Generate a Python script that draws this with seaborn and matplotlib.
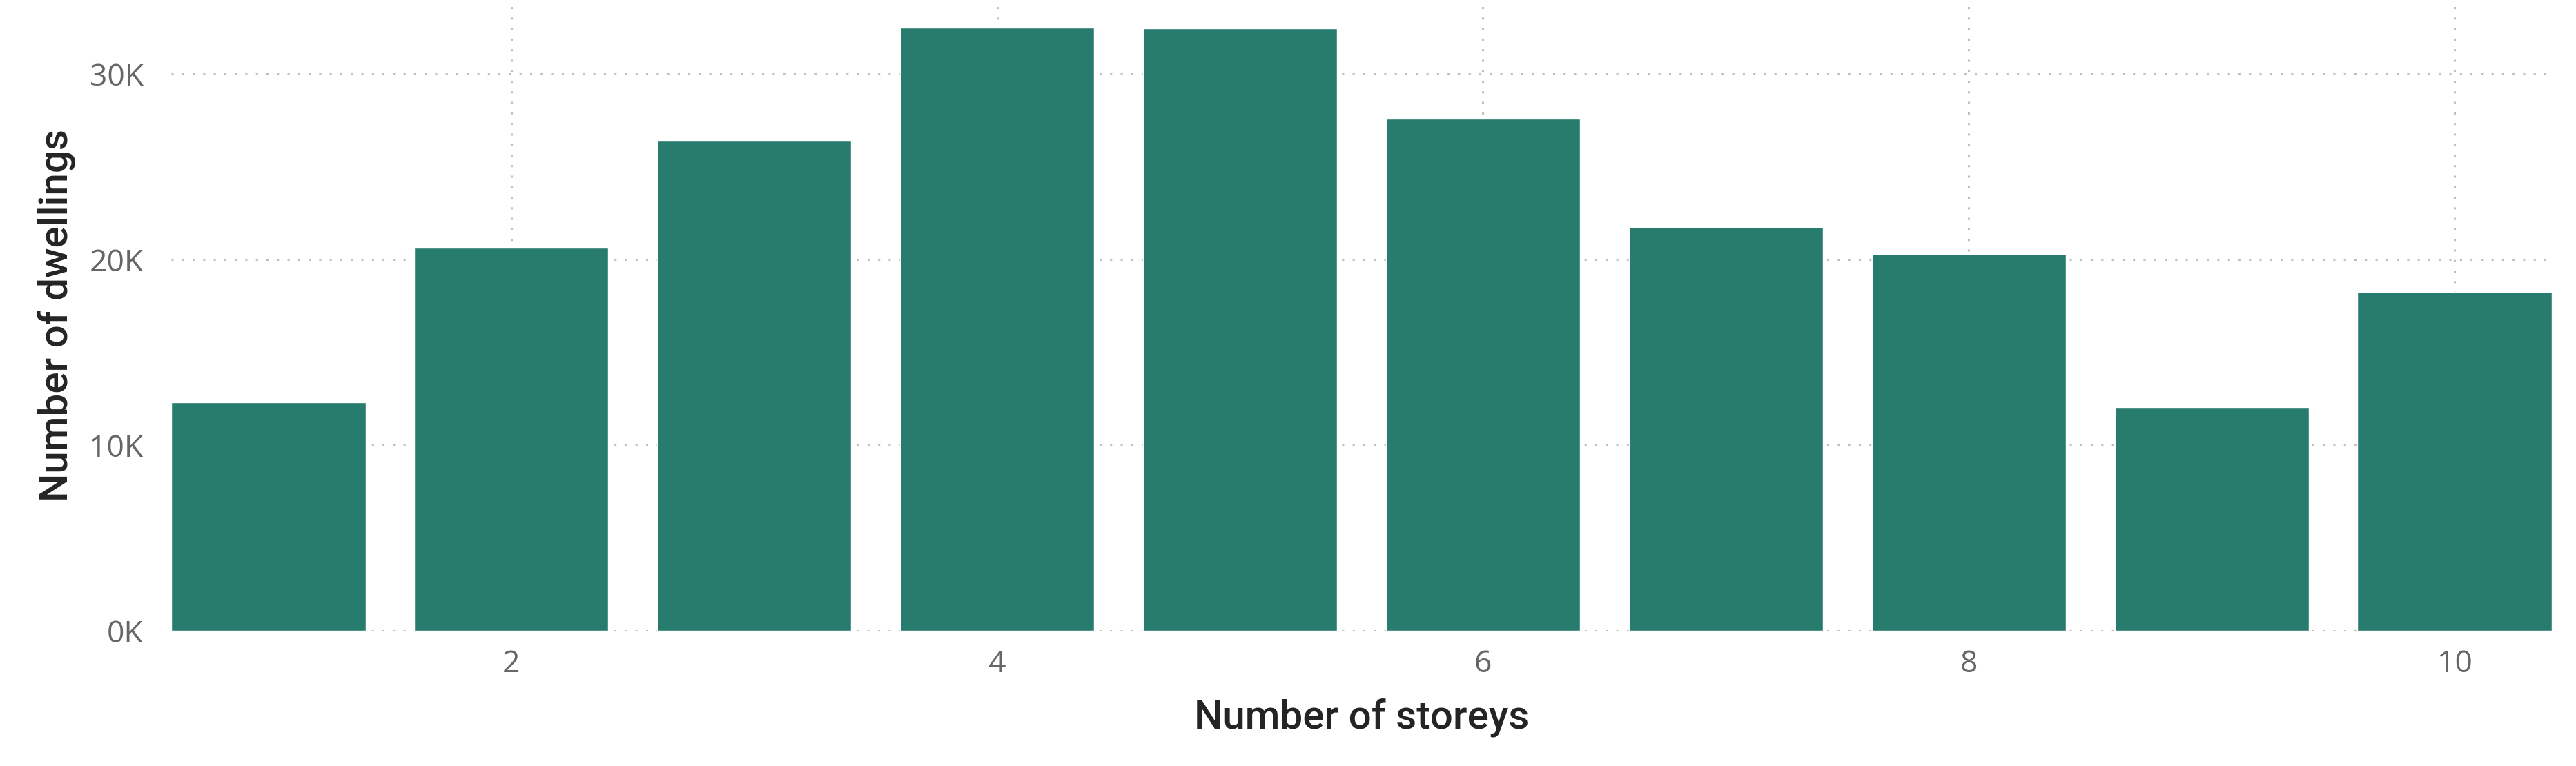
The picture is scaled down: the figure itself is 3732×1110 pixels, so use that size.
import pandas as pd
import seaborn as sns
import matplotlib.pyplot as plt

storeys = [1, 2, 3, 4, 5, 6, 7, 8, 9, 10]
dwellings = [12300, 20650, 26400, 32500, 32450, 27600, 21750, 20300, 12050, 18250]
x_ticks = [2, 4, 6, 8, 10]
y_ticks = [0, 10000, 20000, 30000]
y_tick_labels = ["0K", "10K", "20K", "30K"]

df = pd.DataFrame({"Number of storeys": storeys, "Number of dwellings": dwellings})

sns.set_style("white")
plt.rcParams['font.family'] = ['Open Sans', 'DejaVu Sans']

fig = plt.figure(figsize=(37.32, 11.10), dpi=100)
ax = fig.add_axes([0.06645, 0.17658, 0.92417, 0.82342])

sns.barplot(data=df, x="Number of storeys", y="Number of dwellings", native_scale=True,
            color="#287C6E", saturation=1, width=0.8, ax=ax)

ax.set_xlim(0.6, 10.4)
ax.set_ylim(0, 33980)
ax.set_xticks(x_ticks)
ax.set_xticklabels([str(t) for t in x_ticks])
ax.set_yticks(y_ticks)
ax.set_yticklabels(y_tick_labels)
ax.tick_params(axis='both', length=0, labelsize=32, labelcolor="#666666")
ax.tick_params(axis='x', pad=19)
ax.tick_params(axis='y', pad=29)

# dotted grid behind the bars, like the Power BI original
ax.set_axisbelow(True)
ax.grid(True, axis='both', color="#BEBEBE", linewidth=2.2, linestyle=(0, (1, 4)))
for s in ax.spines.values():
    s.set_visible(False)

ax.set_xlabel("Number of storeys", fontsize=42, family=['Roboto', 'DejaVu Sans'],
              fontweight='medium', color="#252423", va='center')
ax.set_ylabel("Number of dwellings", fontsize=42, family=['Roboto', 'DejaVu Sans'],
              fontweight='medium', color="#252423", va='center')
ax.xaxis.set_label_coords(0.5, -0.138)
ax.yaxis.set_label_coords(-0.048, 0.5)

fig.savefig("out.png", dpi=100)
